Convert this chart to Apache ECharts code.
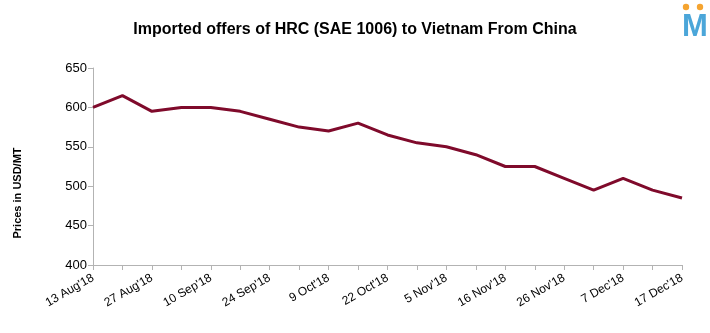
<!DOCTYPE html>
<html>
<head>
<meta charset="utf-8">
<script src="https://cdn.jsdelivr.net/npm/echarts@6/dist/echarts.min.js"></script>
<style>
  html, body { margin: 0; padding: 0; background: #fff; }
  #chart { width: 710px; height: 333px; }
</style>
</head>
<body>
<div id="chart"></div>
<script>
// Offer dates (labels shown on every other tick)
const categories = [
  "13 Aug'18", "", "27 Aug'18", "", "10 Sep'18", "", "24 Sep'18", "",
  "9 Oct'18", "", "22 Oct'18", "", "5 Nov'18", "", "16 Nov'18", "",
  "26 Nov'18", "", "7 Dec'18", "", "17 Dec'18"
];

// HRC offer prices, USD/MT
const prices = [
  600, 615, 595, 600, 600, 595, 585, 575, 570, 580, 565,
  555, 550, 540, 525, 525, 510, 495, 510, 495, 485
];

const yTicks = { min: 400, max: 650, step: 50 };

const chart = echarts.init(document.getElementById('chart'), null, { renderer: 'canvas' });

chart.setOption({
  animation: false,
  backgroundColor: '#ffffff',
  title: {
    text: 'Imported offers of HRC (SAE 1006) to Vietnam From China',
    left: 'center',
    top: 17,
    textStyle: {
      fontFamily: 'Liberation Sans',
      fontWeight: 'bold',
      fontSize: 16,
      color: '#000'
    }
  },
  graphic: [
    {
      type: 'text',
      left: 682,
      top: 12,
      style: {
        text: 'M',
        fontFamily: 'Liberation Sans',
        fontWeight: 'bold',
        fontSize: 31,
        fill: '#4ba6d9'
      }
    },
    { type: 'circle', shape: { cx: 686, cy: 7, r: 3.2 }, style: { fill: '#f5a430' } },
    { type: 'circle', shape: { cx: 700, cy: 7, r: 3.2 }, style: { fill: '#f5a430' } },
    {
      // y-axis title
      type: 'text',
      x: 18,
      y: 193,
      rotation: Math.PI / 2,
      style: {
        text: 'Prices in USD/MT',
        fontFamily: 'Liberation Sans',
        fontWeight: 'bold',
        fontSize: 11,
        fill: '#000',
        align: 'center',
        verticalAlign: 'middle'
      }
    }
  ],
  grid: {
    left: 93,
    right: 28,
    top: 68,
    bottom: 68,
    containLabel: false
  },
  xAxis: {
    type: 'category',
    data: categories,
    boundaryGap: false,
    axisLine: { lineStyle: { color: '#b3b3b3', width: 1 } },
    axisTick: { show: true, interval: 0, length: 5, lineStyle: { color: '#b3b3b3' } },
    axisLabel: {
      interval: 0,
      rotate: 30,
      margin: 12,
      fontFamily: 'Liberation Sans',
      fontSize: 12,
      color: '#000'
    },
    splitLine: { show: false }
  },
  yAxis: {
    type: 'value',
    min: yTicks.min,
    max: yTicks.max,
    interval: yTicks.step,
    axisLine: { show: true, lineStyle: { color: '#b3b3b3', width: 1 } },
    axisTick: { show: true, length: 5, lineStyle: { color: '#b3b3b3' } },
    axisLabel: {
      margin: 6,
      fontFamily: 'Liberation Sans',
      fontSize: 13,
      color: '#000'
    },
    splitLine: { show: false }
  },
  series: [
    {
      type: 'line',
      data: prices,
      symbol: 'none',
      lineStyle: { color: '#7f0a2b', width: 3 },
      itemStyle: { color: '#7f0a2b' }
    }
  ]
});
</script>
</body>
</html>
